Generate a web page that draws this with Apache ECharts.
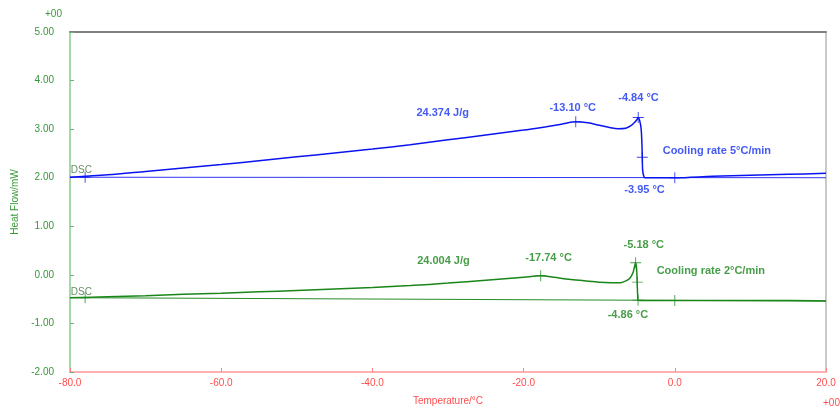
<!DOCTYPE html>
<html>
<head>
<meta charset="utf-8">
<script src="https://cdn.jsdelivr.net/npm/echarts@6/dist/echarts.min.js"></script>
<style>
html, body { margin: 0; padding: 0; background: #fff; }
#main { width: 840px; height: 411px; }
</style>
</head>
<body>
<div id="main"></div>
<script>
// cooling rate 5 C/min curve
var temps5 = [-80, -75, -70, -65, -60, -55, -50, -45, -40, -35, -30, -25, -20, -17, -15, -13.1, -11.5, -10, -8.5, -7.5, -6.5, -5.8, -5.3, -4.95, -4.84, -4.65, -4.45, -4.35, -4.3, -4.25, -4.1, -3.95, -3.5, -2, 0, 5, 10, 15, 20];
var heat5 = [2.01, 2.06, 2.13, 2.2, 2.27, 2.35, 2.43, 2.51, 2.59, 2.68, 2.78, 2.88, 2.98, 3.05, 3.1, 3.15, 3.13, 3.08, 3.03, 3.01, 3.02, 3.07, 3.14, 3.21, 3.24, 3.18, 3.0, 2.7, 2.4, 2.15, 2.03, 2.0, 2.0, 2.0, 2.0, 2.03, 2.05, 2.07, 2.09];
var base5 = [[-80, 2.01], [20, 2.0]];
var marks5 = [[-78, 2.01], [-13.1, 3.15], [-4.84, 3.24], [-4.3, 2.42], [0, 2.0]];

// cooling rate 2 C/min curve
var temps2 = [-80, -75, -70, -65, -60, -55, -50, -45, -40, -35, -30, -25, -20, -17.74, -16, -14, -12, -10, -8.5, -7.2, -6.4, -5.9, -5.5, -5.18, -5.05, -4.98, -4.92, -4.86, -4.6, -2, 0, 5, 10, 15, 20];
var heat2 = [-0.47, -0.45, -0.43, -0.4, -0.38, -0.35, -0.32, -0.29, -0.26, -0.22, -0.17, -0.11, -0.05, -0.02, -0.05, -0.09, -0.12, -0.15, -0.16, -0.16, -0.12, -0.06, 0.06, 0.25, 0.12, -0.15, -0.4, -0.52, -0.53, -0.53, -0.53, -0.53, -0.53, -0.53, -0.54];
var base2 = [[-80, -0.47], [20, -0.54]];
var marks2 = [[-78, -0.47], [-17.74, -0.02], [-5.18, 0.25], [-4.95, -0.15], [-4.86, -0.52], [0, -0.53]];

// annotation texts [temperature, heat flow, text]
var notes5 = [[-30.7, 3.34, '24.374 J/g'], [-13.5, 3.44, '-13.10 °C'], [-4.8, 3.64, '-4.84 °C'], [-4.0, 1.74, '-3.95 °C']];
var notes2 = [[-30.6, 0.29, '24.004 J/g'], [-16.7, 0.35, '-17.74 °C'], [-4.1, 0.61, '-5.18 °C'], [-6.2, -0.82, '-4.86 °C']];
var rate5 = [[-1.6, 2.55, 'Cooling rate 5°C/min']];
var rate2 = [[-2.4, 0.07, 'Cooling rate 2°C/min']];
var dscTags = [[-78.5, 2.15, 'DSC'], [-78.5, -0.35, 'DSC']];

var xTicks = { min: -80, max: 20, interval: 20 };
var yTicks = { min: -2, max: 5, interval: 1 };

var BLUE = '#0a14f0';
var GREEN = '#1a861a';
var plus = 'path://M5.5,0H6.5V5.5H12V6.5H6.5V12H5.5V6.5H0V5.5H5.5Z';

function zip(a, b) {
	return a.map(function (t, i) { return [t, b[i]]; });
}

function textSeries(data, color, align, size, weight) {
	return {
		type: 'scatter',
		data: data,
		symbolSize: 0,
		silent: true,
		z: 5,
		label: {
			show: true,
			position: 'inside',
			align: align,
			color: color,
			fontSize: size,
			fontWeight: weight,
			fontFamily: 'Liberation Sans, Arial, sans-serif',
			formatter: function (p) { return p.data[2]; }
		}
	};
}

var myChart = echarts.init(document.getElementById('main'));
var option = {
	animation: false,
	backgroundColor: '#fff',
	grid: { left: 70, right: 14, top: 32, bottom: 33 },
	graphic: [
		{ type: 'text', left: 45, top: 9, style: { text: '+00', fill: '#3a9a3a', font: '10px Liberation Sans, Arial' } },
		{ type: 'text', left: 823, top: 398, style: { text: '+00', fill: '#ff4d4d', font: '10px Liberation Sans, Arial' } }
	],
	xAxis: [{
		type: 'value',
		min: xTicks.min,
		max: xTicks.max,
		interval: xTicks.interval,
		name: 'Temperature/°C',
		nameLocation: 'middle',
		nameGap: 24,
		nameTextStyle: { color: '#ff4d4d', fontSize: 10, fontFamily: 'Liberation Sans, Arial' },
		axisLine: { onZero: false, lineStyle: { color: '#ffb0b0', width: 2 } },
		axisTick: { inside: true, length: 4, lineStyle: { color: '#ff8080' } },
		axisLabel: {
			color: '#ff4d4d', fontSize: 10, margin: 6, fontFamily: 'Liberation Sans, Arial',
			formatter: function (v) { return v.toFixed(1); }
		},
		splitLine: { show: false }
	}, {
		type: 'value',
		position: 'top',
		min: xTicks.min,
		max: xTicks.max,
		axisLine: { show: true, onZero: false, lineStyle: { color: '#808080', width: 2 } },
		axisTick: { show: false },
		axisLabel: { show: false },
		splitLine: { show: false }
	}],
	yAxis: [{
		type: 'value',
		min: yTicks.min,
		max: yTicks.max,
		interval: yTicks.interval,
		name: 'Heat Flow/mW',
		nameLocation: 'middle',
		nameGap: 49,
		nameTextStyle: { color: '#3a9a3a', fontSize: 10, fontFamily: 'Liberation Sans, Arial' },
		axisLine: { show: true, onZero: false, lineStyle: { color: '#a8d8a8', width: 2 } },
		axisTick: { show: true, inside: true, length: 4, lineStyle: { color: '#70b070' } },
		axisLabel: {
			color: '#36963a', fontSize: 10, margin: 16, fontFamily: 'Liberation Sans, Arial',
			formatter: function (v) { return v.toFixed(2); }
		},
		splitLine: { show: false }
	}, {
		type: 'value',
		position: 'right',
		min: yTicks.min,
		max: yTicks.max,
		axisLine: { show: true, onZero: false, lineStyle: { color: '#b8b8b8', width: 1.5 } },
		axisTick: { show: false },
		axisLabel: { show: false },
		splitLine: { show: false }
	}],
	series: [
		{ type: 'line', data: base5, symbol: 'none', lineStyle: { color: BLUE, width: 1, opacity: 0.85 } },
		{ type: 'line', data: zip(temps5, heat5), symbol: 'none', smooth: 0.3, lineStyle: { color: BLUE, width: 1.5 } },
		{ type: 'scatter', data: marks5, symbol: plus, symbolSize: 11, itemStyle: { color: BLUE } },
		{ type: 'line', data: base2, symbol: 'none', lineStyle: { color: GREEN, width: 1, opacity: 0.95 } },
		{ type: 'line', data: zip(temps2, heat2), symbol: 'none', smooth: 0.3, lineStyle: { color: GREEN, width: 1.5 } },
		{ type: 'scatter', data: marks2, symbol: plus, symbolSize: 11, itemStyle: { color: GREEN } },
		textSeries(notes5, '#1530f0', 'center', 11, 'bold'),
		textSeries(rate5, '#1530f0', 'left', 11, 'bold'),
		textSeries(notes2, GREEN, 'center', 11, 'bold'),
		textSeries(rate2, GREEN, 'left', 11, 'bold'),
		textSeries(dscTags, '#3f6f3f', 'center', 10, 'normal')
	]
};
myChart.setOption(option);
</script>
</body>
</html>
